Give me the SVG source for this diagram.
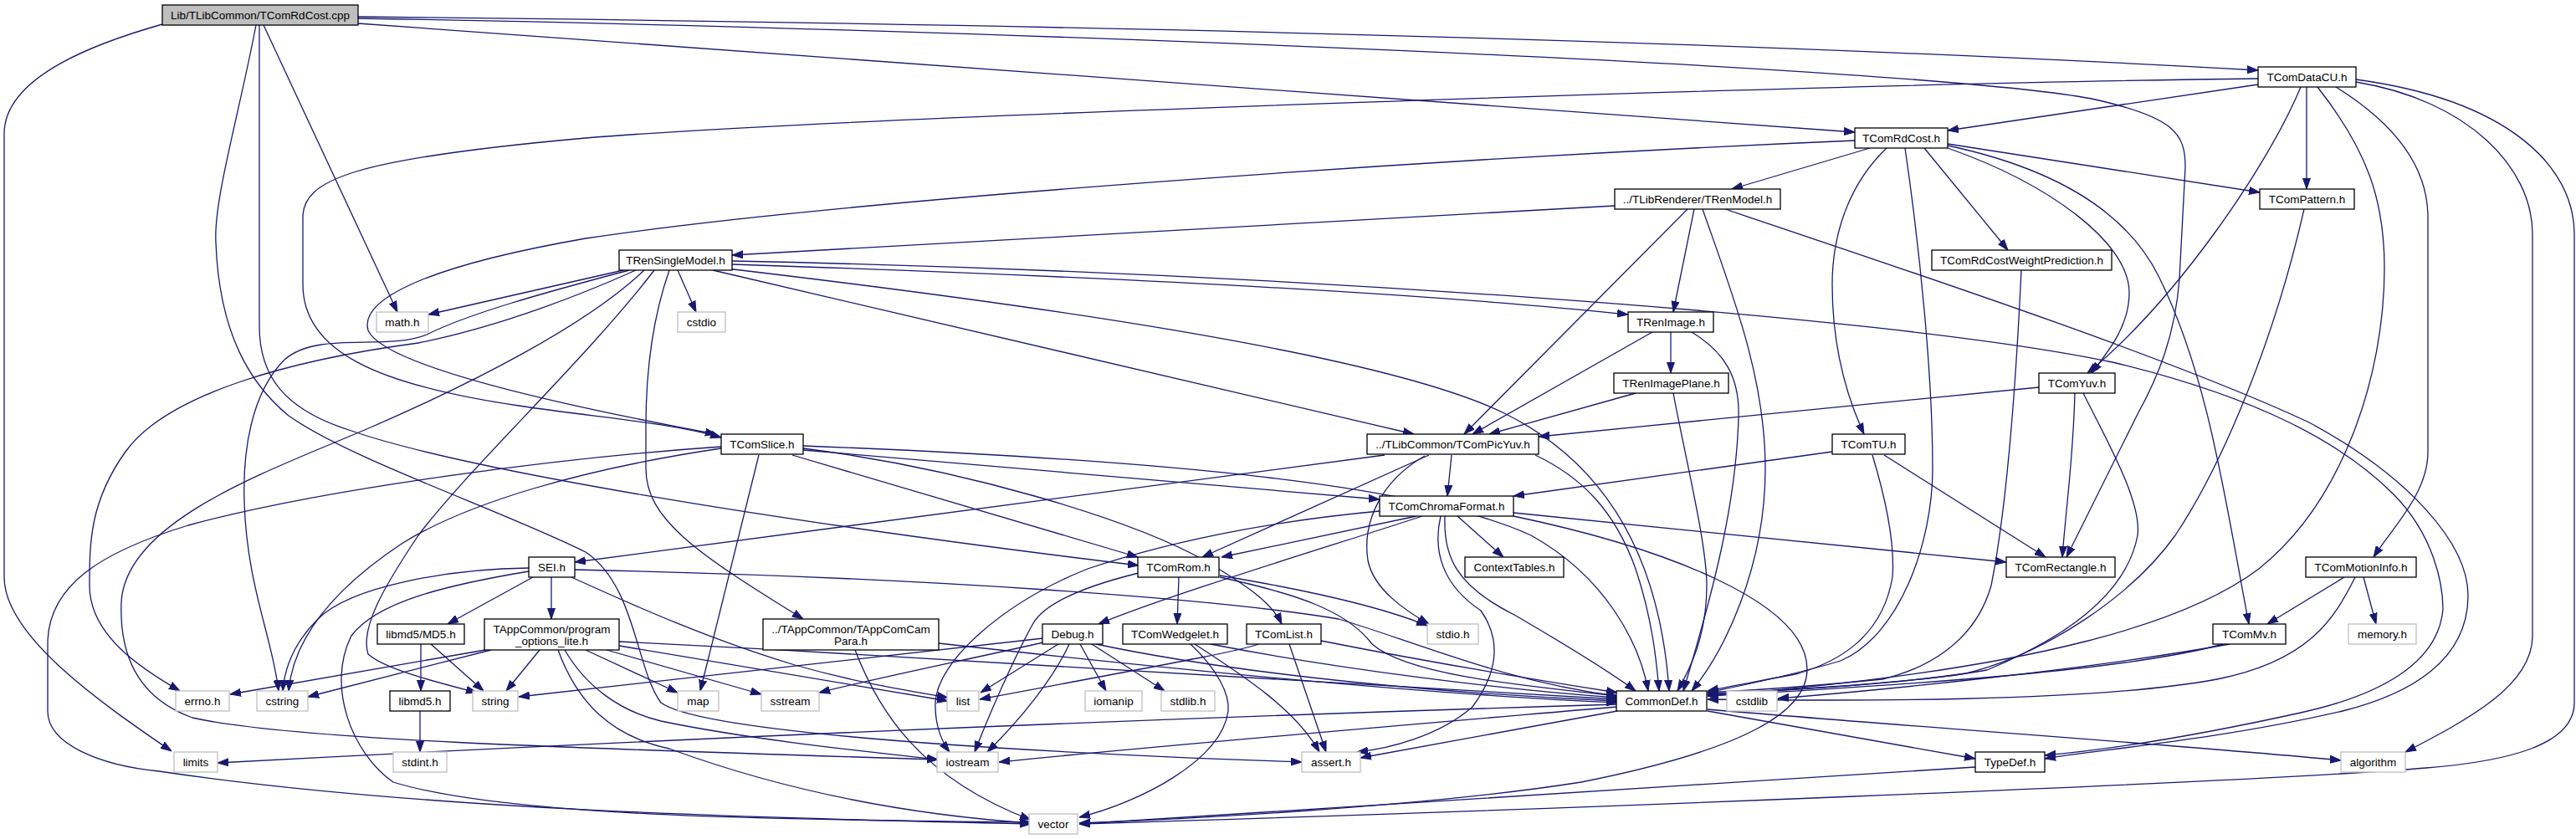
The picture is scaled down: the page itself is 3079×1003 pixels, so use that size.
<svg xmlns="http://www.w3.org/2000/svg" width="3079" height="1003" viewBox="0 0 3079 1003">
<style>
.e{fill:none;stroke:#191970;stroke-width:1.3;marker-end:url(#arr)}
.n rect{fill:#fff;stroke:#000;stroke-width:1.3}
.x rect{fill:#fff;stroke:#bfbfbf;stroke-width:1.3}
.r rect{fill:#bfbfbf;stroke:#000;stroke-width:1.3}
text{font-family:"Liberation Sans",Arial,sans-serif;font-size:13.5px;text-anchor:middle;fill:#000}
</style>
<defs>
<marker id="arr" markerWidth="13" markerHeight="10" refX="13" refY="5" orient="auto" markerUnits="userSpaceOnUse">
<path d="M0,0.5 L13,5 L0,9.5 z" fill="#191970" stroke="#191970" stroke-width="1"/>
</marker>
</defs>
<rect width="3079" height="1003" fill="#fff"/>
<g id="edges">
<path class="e" d="M194,29 C120,50 5,90 5,160 L5,690 C5,760 120,840 205,898"/>
<path class="e" d="M315,30 L475,373"/>
<path class="e" d="M310,30 L310,390 C310,450 340,490 420,515 C550,560 900,620 1361,676"/>
<path class="e" d="M306,30 C285,140 255,240 258,290 C262,400 300,460 345,497 C420,550 600,610 700,660 C760,700 760,800 790,840 C830,870 1100,895 1556,911"/>
<path class="e" d="M428,28 L2217,158"/>
<path class="e" d="M428,20 C1200,28 2000,45 2699,84"/>
<path class="e" d="M428,22 C1200,35 2300,80 2500,118 C2600,140 2612,160 2612,200 L2605,333 C2600,400 2580,450 2555,495 L2470,666"/>
<path class="e" d="M2699,101 L2328,156"/>
<path class="e" d="M2699,94 C2200,100 1000,140 700,165 C420,190 362,215 362,260 L362,340 C362,420 450,460 620,485 C720,500 800,505 862,523"/>
<path class="e" d="M2757,104 L2757,226"/>
<path class="e" d="M2750,104 C2710,200 2600,360 2495,446"/>
<path class="e" d="M2792,104 C2850,140 2902,190 2902,260 L2902,540 C2902,590 2860,630 2837,666"/>
<path class="e" d="M2770,104 C2830,180 2850,240 2850,320 C2850,450 2800,600 2700,680 C2620,740 2450,800 2041,832"/>
<path class="e" d="M2816,98 C2950,120 3027,200 3027,280 L3027,760 C3027,820 2950,860 2875,899"/>
<path class="e" d="M2816,95 C3000,120 3077,200 3077,280 L3077,840 C3077,890 3000,910 2900,918 C2700,935 1800,970 1290,985"/>
<path class="e" d="M2235,177 L2070,226"/>
<path class="e" d="M2217,168 C1700,190 1000,240 700,285 C500,320 430,360 440,395 C460,440 700,490 856,519"/>
<path class="e" d="M2328,172 L2701,230"/>
<path class="e" d="M2300,177 L2400,299"/>
<path class="e" d="M2328,177 C2450,220 2545,290 2545,350 C2545,390 2520,420 2500,446"/>
<path class="e" d="M2328,174 C2450,200 2540,250 2580,330 C2640,450 2660,600 2688,746"/>
<path class="e" d="M2255,177 C2210,220 2190,280 2190,340 C2190,420 2210,480 2228,519"/>
<path class="e" d="M2277,177 C2295,300 2310,450 2310,560 C2310,650 2270,760 2200,790 C2150,805 2080,820 2041,828"/>
<path class="e" d="M1930,246 L875,305"/>
<path class="e" d="M2017,250 L1750,519"/>
<path class="e" d="M2025,250 L2000,373"/>
<path class="e" d="M2035,250 C2070,350 2110,450 2110,560 C2110,680 2060,780 2022,826"/>
<path class="e" d="M2062,250 C2300,330 2600,430 2760,505 C2880,570 2950,650 2950,712 C2950,790 2880,830 2800,850 C2650,885 2500,897 2444,907"/>
<path class="e" d="M745,323 L512,376"/>
<path class="e" d="M752,323 C650,350 560,375 510,400 C460,420 380,395 340,430 C300,470 290,540 292,600 C295,700 325,760 333,826"/>
<path class="e" d="M760,323 C700,350 600,390 500,410 C350,430 200,470 150,540 C107,600 107,650 107,700 C107,760 170,800 215,826"/>
<path class="e" d="M770,323 C700,390 560,460 445,510 C330,560 150,620 145,720 C142,800 180,840 230,858 C350,885 700,895 1121,908"/>
<path class="e" d="M782,323 C700,430 560,560 500,640 C460,700 430,750 440,782 C460,800 520,815 570,828"/>
<path class="e" d="M800,323 C780,380 772,440 772,510 L772,560 C772,620 830,660 960,740"/>
<path class="e" d="M810,323 L832,373"/>
<path class="e" d="M852,323 L1690,519"/>
<path class="e" d="M860,320 C1200,360 1650,420 1800,495 C1930,560 1985,680 1995,826"/>
<path class="e" d="M875,316 C1300,330 1700,350 1946,376"/>
<path class="e" d="M875,312 C1500,325 2250,375 2525,433 C2700,475 2800,530 2860,590 C2910,640 2920,700 2920,728 C2915,790 2850,830 2750,852 C2600,885 2500,898 2444,903"/>
<path class="e" d="M1997,397 L1997,446"/>
<path class="e" d="M1975,397 L1760,519"/>
<path class="e" d="M2022,397 C2060,420 2080,450 2078,500 C2075,600 2050,700 2012,826"/>
<path class="e" d="M1955,470 L1780,519"/>
<path class="e" d="M2000,470 C2015,550 2040,650 2040,700 C2040,760 2020,800 2005,826"/>
<path class="e" d="M2437,463 L1839,522"/>
<path class="e" d="M2480,470 C2478,550 2470,600 2465,666"/>
<path class="e" d="M2490,470 C2520,530 2560,600 2555,640 C2540,720 2450,770 2375,801 C2300,815 2150,825 2041,830"/>
<path class="e" d="M2190,540 L1809,593"/>
<path class="e" d="M2252,544 L2445,666"/>
<path class="e" d="M2238,544 C2255,600 2265,650 2262,690 C2250,760 2200,790 2150,805 C2100,815 2060,822 2041,826"/>
<path class="e" d="M1735,544 L1730,593"/>
<path class="e" d="M1655,544 L687,672"/>
<path class="e" d="M1708,544 L1437,666"/>
<path class="e" d="M1703,545 C1650,575 1628,625 1635,670 C1642,705 1680,730 1708,746"/>
<path class="e" d="M1835,544 C1890,570 1930,610 1955,680 C1975,740 1980,790 1983,826"/>
<path class="e" d="M1742,617 L1797,666"/>
<path class="e" d="M1693,617 L1460,666"/>
<path class="e" d="M1700,617 C1600,650 1400,710 1313,746"/>
<path class="e" d="M1649,611 C1550,620 1420,640 1300,680 C1200,720 1120,790 1118,840 C1117,870 1128,890 1135,899"/>
<path class="e" d="M1727,617 C1725,665 1740,700 1810,735 C1870,770 1920,800 1955,826"/>
<path class="e" d="M1722,617 C1712,660 1725,700 1770,730 C1795,765 1790,805 1760,845 C1720,880 1660,895 1622,899"/>
<path class="e" d="M1809,613 L2398,672"/>
<path class="e" d="M1809,617 C1990,655 2160,720 2160,800 C2160,850 2090,895 1890,935 C1700,965 1400,980 1290,984"/>
<path class="e" d="M960,538 L1649,597"/>
<path class="e" d="M947,544 L1360,666"/>
<path class="e" d="M960,536 C1150,560 1350,620 1440,670 C1490,700 1520,720 1532,746"/>
<path class="e" d="M960,533 C1400,550 1700,580 1830,640 C1920,690 1960,770 1970,826"/>
<path class="e" d="M907,544 L837,826"/>
<path class="e" d="M862,536 C700,560 560,600 480,650 C390,710 350,770 345,826"/>
<path class="e" d="M862,534 C700,545 400,580 225,628 C120,660 57,700 57,770 L57,850 C57,890 120,915 190,922 C500,968 900,978 1232,985"/>
<path class="e" d="M1409,690 L1407,746"/>
<path class="e" d="M1458,688 C1560,705 1650,725 1706,748"/>
<path class="e" d="M1361,685 C1300,700 1250,720 1235,745 C1210,790 1180,860 1165,899"/>
<path class="e" d="M1458,690 C1550,710 1610,730 1640,770 C1680,805 1800,818 1933,832"/>
<path class="e" d="M1265,770 L1172,828"/>
<path class="e" d="M1291,770 L1322,826"/>
<path class="e" d="M1305,770 L1392,826"/>
<path class="e" d="M1278,770 C1260,810 1220,860 1180,899"/>
<path class="e" d="M1247,768 C1150,790 1050,810 979,828"/>
<path class="e" d="M1247,763 L620,833"/>
<path class="e" d="M1310,770 C1500,810 1750,830 1933,838"/>
<path class="e" d="M1423,770 C1455,800 1470,830 1468,850 C1460,910 1360,960 1290,977"/>
<path class="e" d="M1428,770 C1490,810 1550,850 1577,899"/>
<path class="e" d="M1447,770 C1600,800 1800,825 1933,834"/>
<path class="e" d="M1505,770 C1480,778 1460,782 1171,836"/>
<path class="e" d="M1541,770 L1585,899"/>
<path class="e" d="M1579,766 C1700,790 1850,815 1933,828"/>
<path class="e" d="M637,690 L535,746"/>
<path class="e" d="M659,690 L659,740"/>
<path class="e" d="M683,690 C760,725 850,765 950,795 C1020,815 1080,825 1133,834"/>
<path class="e" d="M632,679 C540,680 420,700 380,740 C350,770 340,800 338,826"/>
<path class="e" d="M632,683 C530,700 450,720 420,760 C390,820 420,900 470,935 C600,975 900,980 1232,983"/>
<path class="e" d="M687,681 C1100,690 1450,715 1600,740 C1700,770 1800,815 1933,832"/>
<path class="e" d="M503,770 L503,826"/>
<path class="e" d="M515,770 L578,826"/>
<path class="e" d="M502,850 L502,899"/>
<path class="e" d="M580,777 L275,830"/>
<path class="e" d="M587,777 L368,833"/>
<path class="e" d="M645,777 L605,826"/>
<path class="e" d="M675,777 C700,820 740,850 790,862 C900,885 1050,900 1121,908"/>
<path class="e" d="M667,777 C690,840 730,880 800,895 C950,950 1100,975 1232,984"/>
<path class="e" d="M700,777 L810,828"/>
<path class="e" d="M725,777 L910,830"/>
<path class="e" d="M740,772 L1133,838"/>
<path class="e" d="M740,767 C1200,790 1700,820 1933,836"/>
<path class="e" d="M1022,777 C1050,850 1100,930 1232,980"/>
<path class="e" d="M1122,769 C1400,800 1700,830 1933,840"/>
<path class="e" d="M1933,842 C1500,855 900,878 260,912"/>
<path class="e" d="M1933,845 C1700,865 1400,890 1194,911"/>
<path class="e" d="M1933,850 L1626,906"/>
<path class="e" d="M2041,850 L2361,907"/>
<path class="e" d="M2041,848 C2300,870 2600,890 2798,909"/>
<path class="e" d="M2802,690 L2710,746"/>
<path class="e" d="M2825,690 L2840,746"/>
<path class="e" d="M2815,690 C2790,740 2760,790 2650,812 C2500,840 2200,838 2041,836"/>
<path class="e" d="M2657,770 C2550,800 2300,818 2041,832"/>
<path class="e" d="M2665,770 C2500,800 2250,825 2125,835"/>
<path class="e" d="M2754,250 C2720,400 2660,550 2600,640 C2550,710 2450,780 2350,805 C2250,820 2100,826 2041,830"/>
<path class="e" d="M2416,323 C2410,450 2400,600 2380,700 C2360,770 2300,800 2250,812 C2150,822 2080,826 2041,828"/>
<path class="e" d="M2361,917 C2000,940 1600,965 1290,985"/>
</g>
<g id="n_root" class="r"><rect x="194" y="6" width="234" height="24"/><text x="311" y="23">Lib/TLibCommon/TComRdCost.cpp</text></g>
<g id="n_math" class="x"><rect x="450" y="373" width="62" height="24"/><text x="481" y="390">math.h</text></g>
<g id="n_TRenSingleModel" class="n"><rect x="740" y="299" width="135" height="24"/><text x="807.5" y="316">TRenSingleModel.h</text></g>
<g id="n_cstdio" class="x"><rect x="810" y="373" width="57" height="24"/><text x="838.5" y="390">cstdio</text></g>
<g id="n_TComRdCost_h" class="n"><rect x="2217" y="153" width="111" height="24"/><text x="2272.5" y="170">TComRdCost.h</text></g>
<g id="n_TRenModel" class="n"><rect x="1930" y="226" width="198" height="24"/><text x="2029" y="243">../TLibRenderer/TRenModel.h</text></g>
<g id="n_TRenImage" class="n"><rect x="1946" y="373" width="102" height="24"/><text x="1997" y="390">TRenImage.h</text></g>
<g id="n_TRenImagePlane" class="n"><rect x="1929" y="446" width="137" height="24"/><text x="1997.5" y="463">TRenImagePlane.h</text></g>
<g id="n_TComDataCU" class="n"><rect x="2699" y="80" width="117" height="24"/><text x="2757.5" y="97">TComDataCU.h</text></g>
<g id="n_TComPattern" class="n"><rect x="2701" y="226" width="113" height="24"/><text x="2757.5" y="243">TComPattern.h</text></g>
<g id="n_TComRdCostWeightPrediction" class="n"><rect x="2309" y="299" width="215" height="24"/><text x="2416.5" y="316">TComRdCostWeightPrediction.h</text></g>
<g id="n_TComYuv" class="n"><rect x="2437" y="446" width="91" height="24"/><text x="2482.5" y="463">TComYuv.h</text></g>
<g id="n_SEI" class="n"><rect x="632" y="666" width="55" height="24"/><text x="659.5" y="683">SEI.h</text></g>
<g id="n_MD5" class="n"><rect x="451" y="746" width="104" height="24"/><text x="503" y="763">libmd5/MD5.h</text></g>
<g id="n_program_options" class="n"><rect x="579" y="740" width="161" height="37"/><text x="659.5" y="757">TAppCommon/program</text><text x="659.5" y="771">_options_lite.h</text></g>
<g id="n_errno" class="x"><rect x="210" y="826" width="64" height="24"/><text x="242" y="843">errno.h</text></g>
<g id="n_cstring" class="x"><rect x="307" y="826" width="61" height="24"/><text x="337.5" y="843">cstring</text></g>
<g id="n_libmd5" class="n"><rect x="466" y="826" width="72" height="24"/><text x="502" y="843">libmd5.h</text></g>
<g id="n_string" class="x"><rect x="565" y="826" width="54" height="24"/><text x="592" y="843">string</text></g>
<g id="n_limits" class="x"><rect x="208" y="899" width="52" height="24"/><text x="234" y="916">limits</text></g>
<g id="n_stdint" class="x"><rect x="470" y="899" width="64" height="24"/><text x="502" y="916">stdint.h</text></g>
<g id="n_TComSlice" class="n"><rect x="862" y="519" width="98" height="24"/><text x="911" y="536">TComSlice.h</text></g>
<g id="n_TComRom" class="n"><rect x="1360" y="666" width="97" height="24"/><text x="1408.5" y="683">TComRom.h</text></g>
<g id="n_TAppComCamPara" class="n"><rect x="912" y="740" width="210" height="37"/><text x="1017" y="757">../TAppCommon/TAppComCam</text><text x="1017" y="771">Para.h</text></g>
<g id="n_Debug" class="n"><rect x="1246" y="746" width="72" height="24"/><text x="1282" y="763">Debug.h</text></g>
<g id="n_TComWedgelet" class="n"><rect x="1342" y="746" width="125" height="24"/><text x="1404.5" y="763">TComWedgelet.h</text></g>
<g id="n_TComList" class="n"><rect x="1490" y="746" width="89" height="24"/><text x="1534.5" y="763">TComList.h</text></g>
<g id="n_map" class="x"><rect x="810" y="826" width="49" height="24"/><text x="834.5" y="843">map</text></g>
<g id="n_sstream" class="x"><rect x="910" y="826" width="69" height="24"/><text x="944.5" y="843">sstream</text></g>
<g id="n_list" class="x"><rect x="1132" y="826" width="38" height="24"/><text x="1151" y="843">list</text></g>
<g id="n_iomanip" class="x"><rect x="1297" y="826" width="68" height="24"/><text x="1331" y="843">iomanip</text></g>
<g id="n_stdlib" class="x"><rect x="1388" y="826" width="64" height="24"/><text x="1420" y="843">stdlib.h</text></g>
<g id="n_iostream" class="x"><rect x="1120" y="899" width="73" height="24"/><text x="1156.5" y="916">iostream</text></g>
<g id="n_vector" class="x"><rect x="1230" y="973" width="58" height="24"/><text x="1259" y="990">vector</text></g>
<g id="n_TComPicYuv" class="n"><rect x="1634" y="519" width="205" height="24"/><text x="1736.5" y="536">../TLibCommon/TComPicYuv.h</text></g>
<g id="n_TComTU" class="n"><rect x="2190" y="519" width="87" height="24"/><text x="2233.5" y="536">TComTU.h</text></g>
<g id="n_TComChromaFormat" class="n"><rect x="1649" y="593" width="160" height="24"/><text x="1729" y="610">TComChromaFormat.h</text></g>
<g id="n_ContextTables" class="n"><rect x="1751" y="666" width="118" height="24"/><text x="1810" y="683">ContextTables.h</text></g>
<g id="n_stdio" class="x"><rect x="1706" y="746" width="61" height="24"/><text x="1736.5" y="763">stdio.h</text></g>
<g id="n_CommonDef" class="n"><rect x="1932" y="826" width="108" height="24"/><text x="1986" y="843">CommonDef.h</text></g>
<g id="n_cstdlib" class="x"><rect x="2064" y="826" width="60" height="24"/><text x="2094" y="843">cstdlib</text></g>
<g id="n_assert" class="x"><rect x="1556" y="899" width="70" height="24"/><text x="1591" y="916">assert.h</text></g>
<g id="n_TComRectangle" class="n"><rect x="2398" y="666" width="130" height="24"/><text x="2463" y="683">TComRectangle.h</text></g>
<g id="n_TComMotionInfo" class="n"><rect x="2756" y="666" width="132" height="24"/><text x="2822" y="683">TComMotionInfo.h</text></g>
<g id="n_TComMv" class="n"><rect x="2645" y="746" width="87" height="24"/><text x="2688.5" y="763">TComMv.h</text></g>
<g id="n_memory" class="x"><rect x="2807" y="746" width="81" height="24"/><text x="2847.5" y="763">memory.h</text></g>
<g id="n_TypeDef" class="n"><rect x="2361" y="899" width="83" height="24"/><text x="2402.5" y="916">TypeDef.h</text></g>
<g id="n_algorithm" class="x"><rect x="2798" y="899" width="77" height="24"/><text x="2836.5" y="916">algorithm</text></g>
</svg>
